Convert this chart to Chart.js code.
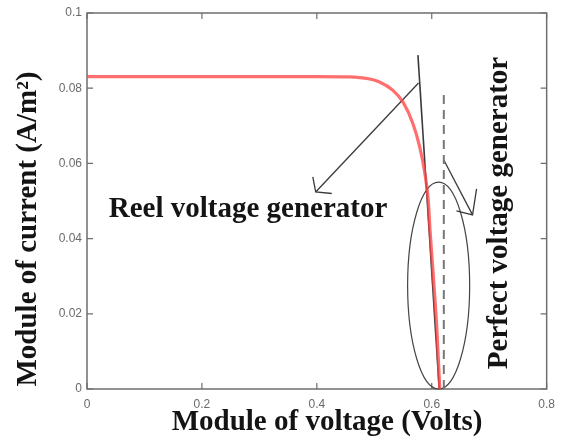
<!DOCTYPE html>
<html>
<head>
<meta charset="utf-8">
<script src="https://cdn.jsdelivr.net/npm/chart.js@4.4.0/dist/chart.umd.min.js"></script>
<style>
  body { margin: 0; background: #fff; }
  #wrap { width: 563px; height: 447px; }
</style>
</head>
<body>
<div id="wrap"><canvas id="ivChart" width="563" height="447"></canvas></div>
<script>
// I-V curve of the real generator (volts, A/m2)
const curveV = [0, 0.20, 0.40, 0.457, 0.49, 0.51, 0.532, 0.55, 0.567, 0.579, 0.588, 0.594, 0.597, 0.602, 0.609, 0.614];
const curveI = [0.0831, 0.0831, 0.0831, 0.083, 0.0825, 0.0816, 0.0795, 0.0763, 0.0707, 0.0644, 0.0574, 0.050, 0.0423, 0.0316, 0.0157, 0];

// ideal source: vertical dashed line
const perfectV = [0.621, 0.621];
const perfectI = [0.0782, 0];

// pointer lines (x, y pairs in data units)
const slopeLine = [[0.576, 0.0888], [0.613, 0]];
const reelArrow = [[0.577, 0.0814], [0.398, 0.0524]];
const reelHead = [[0.426, 0.0520], [0.398, 0.0524], [0.393, 0.0564]];
const perfArrow = [[0.621, 0.0609], [0.671, 0.0463]];
const perfHead = [[0.678, 0.0532], [0.671, 0.0463], [0.643, 0.0474]];

// circled zone around the open-circuit point
const ringCenter = [0.612, 0.0275];
const ringRadius = [0.054, 0.0275];

const xTicks = [0, 0.2, 0.4, 0.6, 0.8];
const yTicks = [0, 0.02, 0.04, 0.06, 0.08, 0.1];
const xLabels = ['0', '0.2', '0.4', '0.6', '0.8'];
const yLabels = ['0', '0.02', '0.04', '0.06', '0.08', '0.1'];

const toPts = (xs, ys) => xs.map((x, i) => ({ x: x, y: ys[i] }));
const pairPts = arr => arr.map(p => ({ x: p[0], y: p[1] }));

function blackLine(points, extra) {
  return Object.assign({
    data: pairPts(points),
    showLine: true,
    borderColor: '#3a3a3a',
    borderWidth: 1.3,
    pointRadius: 0,
    tension: 0,
    order: 2
  }, extra || {});
}

// frame, inward ticks, ellipse and texts
const decor = {
  id: 'decor',
  beforeDatasetsDraw(chart) {
    const ctx = chart.ctx, a = chart.chartArea;
    const xs = chart.scales.x, ys = chart.scales.y;
    ctx.save();
    ctx.strokeStyle = '#6e6e6e';
    ctx.lineWidth = 1.5;
    ctx.strokeRect(a.left, a.top, a.right - a.left, a.bottom - a.top);
    ctx.lineWidth = 1.2;
    ctx.beginPath();
    xTicks.forEach(v => {
      const px = xs.getPixelForValue(v);
      ctx.moveTo(px, a.bottom); ctx.lineTo(px, a.bottom - 6);
      ctx.moveTo(px, a.top); ctx.lineTo(px, a.top + 6);
    });
    yTicks.forEach(v => {
      const py = ys.getPixelForValue(v);
      ctx.moveTo(a.left, py); ctx.lineTo(a.left + 6, py);
      ctx.moveTo(a.right, py); ctx.lineTo(a.right - 6, py);
    });
    ctx.stroke();

    // ellipse
    const cx = xs.getPixelForValue(ringCenter[0]);
    const cy = ys.getPixelForValue(ringCenter[1]);
    const rx = xs.getPixelForValue(ringCenter[0] + ringRadius[0]) - cx;
    const ry = cy - ys.getPixelForValue(ringCenter[1] + ringRadius[1]);
    ctx.strokeStyle = '#444';
    ctx.lineWidth = 1.2;
    ctx.beginPath();
    ctx.ellipse(cx, cy, rx, ry, 0, 0, Math.PI * 2);
    ctx.stroke();
    ctx.restore();
  },
  afterDraw(chart) {
    const ctx = chart.ctx;
    ctx.save();
    ctx.fillStyle = '#141414';
    ctx.font = 'bold 29px "Liberation Serif", "Times New Roman", serif';
    ctx.textAlign = 'center';
    ctx.textBaseline = 'middle';
    // axis titles
    ctx.fillText('Module of voltage (Volts)', 327, 423);
    ctx.save();
    ctx.translate(29, 229);
    ctx.rotate(-Math.PI / 2);
    ctx.fillText('Module of current (A/m\u00B2)', 0, 0);
    ctx.restore();
    // annotations
    ctx.fillText('Reel voltage generator', 248, 210);
    ctx.save();
    ctx.translate(500, 213);
    ctx.rotate(-Math.PI / 2);
    ctx.fillText('Perfect voltage generator', 0, 0);
    ctx.restore();
    ctx.restore();
  }
};

const ctx = document.getElementById('ivChart').getContext('2d');
const ivChart = new Chart(ctx, {
  type: 'scatter',
  data: {
    datasets: [
      {
        label: 'Reel voltage generator',
        data: toPts(curveV, curveI),
        showLine: true,
        borderColor: 'rgba(255, 70, 70, 0.78)',
        borderWidth: 3.2,
        pointRadius: 0,
        cubicInterpolationMode: 'monotone',
        order: 0
      },
      {
        label: 'Perfect voltage generator',
        data: toPts(perfectV, perfectI),
        showLine: true,
        borderColor: '#777',
        borderWidth: 2,
        borderDash: [9, 6],
        pointRadius: 0,
        order: 1
      },
      blackLine(slopeLine, { borderWidth: 1.6 }),
      blackLine(reelArrow),
      blackLine(reelHead),
      blackLine(perfArrow),
      blackLine(perfHead)
    ]
  },
  options: {
    responsive: false,
    animation: false,
    layout: { padding: { top: 13, right: 16, left: 0, bottom: 0 } },
    plugins: { legend: { display: false }, tooltip: { enabled: false } },
    scales: {
      x: {
        type: 'linear',
        min: 0, max: 0.8,
        afterBuildTicks: s => { s.ticks = xTicks.map(v => ({ value: v })); },
        afterFit: s => { s.height = 58; },
        grid: { display: false, drawTicks: false, tickLength: 0 },
        border: { display: false },
        ticks: {
          color: '#6a6a6a', padding: 8,
          font: { family: '"Liberation Sans", Arial, sans-serif', size: 12 },
          callback: (v, i) => xLabels[i]
        }
      },
      y: {
        type: 'linear',
        min: 0, max: 0.1,
        afterBuildTicks: s => { s.ticks = yTicks.map(v => ({ value: v })); },
        afterFit: s => { s.width = 87; },
        grid: { display: false, drawTicks: false, tickLength: 0 },
        border: { display: false },
        ticks: {
          color: '#6a6a6a', padding: 5,
          font: { family: '"Liberation Sans", Arial, sans-serif', size: 12 },
          callback: (v, i) => yLabels[i]
        }
      }
    }
  },
  plugins: [decor]
});
</script>
</body>
</html>
